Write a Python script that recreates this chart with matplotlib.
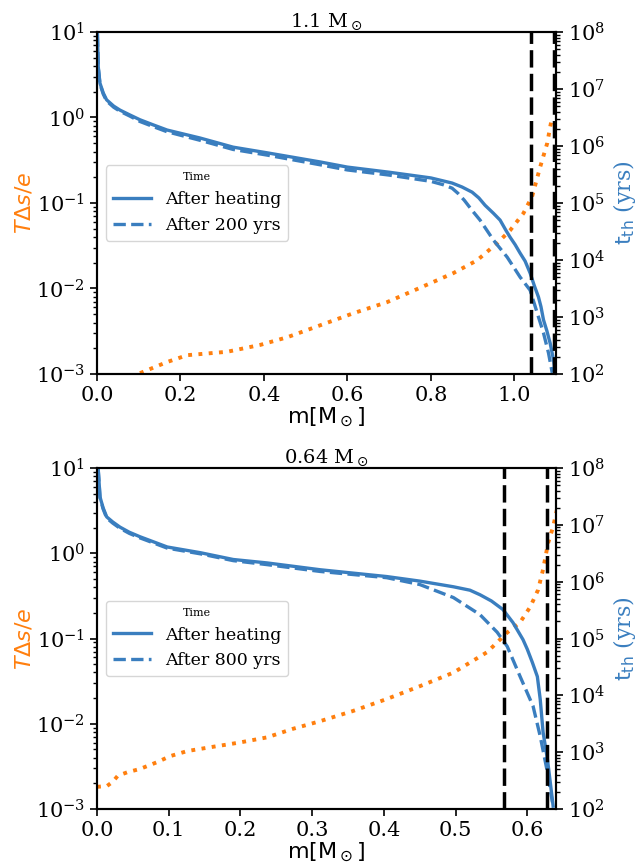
import numpy as np
import matplotlib
matplotlib.use("Agg")
import matplotlib.pyplot as plt

plt.rcParams["font.family"] = "DejaVu Serif"
plt.rcParams["mathtext.fontset"] = "dejavusans"

BLUE = "#3a7ebf"
ORANGE = "#ff7f0e"

# ---- top panel: 1.1 Msun ----
top_heat_m = [0.0, 0.0005, 0.003, 0.007, 0.015, 0.023, 0.04, 0.055, 0.08, 0.103, 0.135, 0.168,
              0.247, 0.326, 0.408, 0.535, 0.6, 0.7, 0.8, 0.851, 0.875, 0.899, 0.915, 0.930,
              0.950, 0.966, 0.980, 0.990, 1.002, 1.014, 1.026, 1.038, 1.048, 1.058, 1.064,
              1.070, 1.078, 1.086, 1.094, 1.098]
top_heat_t = [8.6, 8.1, 7.39, 7.105, 6.93, 6.81, 6.70, 6.63, 6.54, 6.46, 6.37, 6.28,
              6.14, 5.98, 5.88, 5.72, 5.63, 5.54, 5.44, 5.35, 5.28, 5.19, 5.09, 4.96,
              4.82, 4.70, 4.52, 4.40, 4.27, 4.12, 3.98, 3.77, 3.55, 3.35, 3.18,
              2.95, 2.76, 2.54, 2.25, 2.02]
top_late_m = [0.0, 0.0005, 0.003, 0.007, 0.015, 0.023, 0.04, 0.055, 0.08, 0.103, 0.135, 0.168,
              0.247, 0.326, 0.408, 0.535, 0.6, 0.7, 0.8, 0.83, 0.851, 0.865, 0.880, 0.900,
              0.918, 0.950, 0.983, 1.014, 1.038, 1.055, 1.070, 1.082, 1.091]
top_late_t = [8.6, 8.1, 7.38, 7.09, 6.91, 6.79, 6.68, 6.61, 6.52, 6.43, 6.34, 6.25,
              6.10, 5.94, 5.84, 5.67, 5.58, 5.49, 5.38, 5.32, 5.26, 5.17, 5.05, 4.86,
              4.70, 4.35, 4.05, 3.70, 3.47, 3.07, 2.72, 2.37, 2.02]
top_ds_m = [0.103, 0.168, 0.216, 0.312, 0.391, 0.456, 0.535, 0.614, 0.695, 0.775, 0.854,
            0.911, 0.959, 0.990, 1.022, 1.043, 1.062, 1.079, 1.086, 1.091]
top_ds = [-2.99, -2.86, -2.78, -2.74, -2.66, -2.57, -2.43, -2.29, -2.16, -1.99, -1.82,
          -1.67, -1.47, -1.32, -1.12, -0.92, -0.58, -0.30, -0.11, 0.006]
top_vlines = [1.041, 1.096]

# ---- bottom panel: 0.64 Msun ----
bot_heat_m = [0.0, 0.0005, 0.0018, 0.0042, 0.0085, 0.0135, 0.022, 0.032, 0.045, 0.060, 0.098,
              0.144, 0.190, 0.237, 0.311, 0.404, 0.450, 0.497, 0.520, 0.534, 0.550, 0.566,
              0.580, 0.594, 0.600, 0.607, 0.614, 0.618, 0.622, 0.628, 0.632, 0.636]
bot_heat_t = [8.6, 8.2, 7.96, 7.49, 7.30, 7.14, 7.05, 6.96, 6.87, 6.79, 6.61,
              6.51, 6.39, 6.33, 6.21, 6.09, 6.01, 5.91, 5.85, 5.77, 5.66, 5.51,
              5.28, 4.98, 4.81, 4.58, 4.33, 3.93, 3.35, 2.88, 2.47, 2.05]
bot_late_m = [0.0, 0.0005, 0.0018, 0.0042, 0.0085, 0.0135, 0.022, 0.032, 0.045, 0.060, 0.098,
              0.144, 0.190, 0.237, 0.311, 0.404, 0.450, 0.497, 0.534, 0.558, 0.572, 0.590,
              0.608, 0.618, 0.628, 0.635]
bot_late_t = [8.6, 8.2, 7.95, 7.48, 7.28, 7.12, 7.03, 6.94, 6.85, 6.77, 6.59,
              6.49, 6.37, 6.30, 6.18, 6.07, 5.95, 5.72, 5.42, 5.11, 4.86, 4.33,
              3.81, 3.28, 2.65, 2.12]
bot_ds_m = [0.0, 0.014, 0.022, 0.029, 0.042, 0.060, 0.084, 0.102, 0.126, 0.162, 0.199,
            0.237, 0.273, 0.311, 0.357, 0.404, 0.450, 0.497, 0.544, 0.572, 0.590,
            0.604, 0.615, 0.622, 0.629, 0.636, 0.642]
bot_ds = [-2.74, -2.73, -2.68, -2.61, -2.57, -2.53, -2.45, -2.38, -2.32, -2.27, -2.22,
          -2.16, -2.06, -1.97, -1.85, -1.71, -1.56, -1.40, -1.16, -0.93, -0.81,
          -0.63, -0.43, -0.19, 0.12, 0.31, 0.54]
bot_vlines = [0.568, 0.628]

panels = [
    dict(title=r"1.1 M$_\odot$", xmax=1.1, xticks=[0.0, 0.2, 0.4, 0.6, 0.8, 1.0],
         heat=(top_heat_m, top_heat_t), late=(top_late_m, top_late_t),
         ds=(top_ds_m, top_ds), vlines=top_vlines, late_label="After 200 yrs",
         rect=[97 / 636, 1 - 374 / 863, 459 / 636, 342 / 863]),
    dict(title=r"0.64 M$_\odot$", xmax=0.64, xticks=[0.0, 0.1, 0.2, 0.3, 0.4, 0.5, 0.6],
         heat=(bot_heat_m, bot_heat_t), late=(bot_late_m, bot_late_t),
         ds=(bot_ds_m, bot_ds), vlines=bot_vlines, late_label="After 800 yrs",
         rect=[97 / 636, 1 - 809 / 863, 459 / 636, 341 / 863]),
]

fig = plt.figure(figsize=(6.36, 8.63), dpi=100)

for p in panels:
    ax = fig.add_axes(p["rect"])
    ax2 = ax.twinx()

    ax.plot(p["ds"][0], 10 ** np.array(p["ds"][1]), ":", color=ORANGE, lw=2.8)
    ax2.plot(p["heat"][0], 10 ** np.array(p["heat"][1]), "-", color=BLUE, lw=2.4,
             label="After heating")
    ax2.plot(p["late"][0], 10 ** np.array(p["late"][1]), "--", color=BLUE, lw=2.4,
             label=p["late_label"])
    for xv in p["vlines"]:
        ax2.axvline(xv, color="black", ls="--", lw=2.5, dashes=(5, 1.8))

    ax.set_yscale("log")
    ax2.set_yscale("log")
    ax.set_ylim(1e-3, 1e1)
    ax2.set_ylim(1e2, 1e8)
    ax.set_xlim(0, p["xmax"])
    ax.set_xticks(p["xticks"])
    ax.set_title(p["title"], fontsize=14, pad=3)
    ax.set_xlabel(r"$\rm m[M_\odot]$", fontsize=16, labelpad=1)
    ax.set_ylabel(r"$T\Delta s/e$", color=ORANGE, fontsize=16, labelpad=0)
    ax2.set_ylabel(r"$\rm t_{th}$ (yrs)", color=BLUE, fontsize=16, labelpad=4)
    for a in (ax, ax2):
        a.tick_params(labelsize=15, width=1.2, length=5)
        a.tick_params(which="minor", width=1, length=3)
        for s in a.spines.values():
            s.set_linewidth(1.5)

    leg = ax2.legend(loc="center left", title="Time", fontsize=12.5, framealpha=0.8,
                     handlelength=2.2)
    leg.get_title().set_fontsize(8)

fig.savefig("out.png", dpi=100)
